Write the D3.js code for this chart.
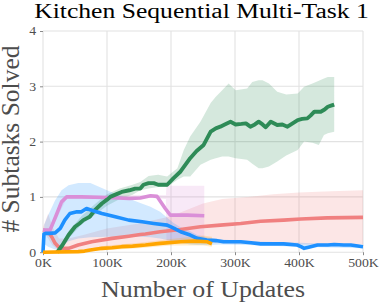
<!DOCTYPE html>
<html>
<head>
<meta charset="utf-8">
<script src="https://cdn.jsdelivr.net/npm/d3@7"></script>
<style>
  html, body { margin: 0; padding: 0; background: #fff; }
  svg { display: block; }
</style>
</head>
<body>
<svg id="chart" width="379" height="304"></svg>
<script>
// ---------------- DATA (x in thousands of updates) ----------------
const titleText = "Kitchen Sequential Multi-Task 1";
const xLabelText = "Number of Updates";
const yLabelText = "# Subtasks Solved";
const xTicks = [0, 100, 200, 300, 400, 500];
const xTickLabels = ["0K", "100K", "200K", "300K", "400K", "500K"];
const yTicks = [0, 1, 2, 3, 4];

// Green series
const greenX = [22,30,40,50,57,63,73,81,92,100,105,115,123,135,144,152,157,165,173,180,194,204,215,230,240,251,262,270,277,284,293,301,310,317,324,331,337,343,348,356,366,374,382,390,398,405,413,418,424,434,440,445,450,455];
const greenY = [0,0.12,0.31,0.46,0.52,0.58,0.64,0.76,0.88,0.95,1.0,1.05,1.09,1.12,1.15,1.15,1.22,1.25,1.25,1.22,1.22,1.34,1.46,1.70,1.83,1.94,2.18,2.24,2.27,2.31,2.36,2.31,2.32,2.33,2.27,2.31,2.36,2.31,2.26,2.36,2.30,2.31,2.27,2.33,2.39,2.41,2.42,2.47,2.54,2.54,2.58,2.63,2.65,2.67];
const greenBandX = [22,40,60,80,100,120,140,152,165,180,194,210,220,230,246,262,270,280,290,301,319,327,337,343,353,366,380,398,408,421,431,439,445,455];
const greenHi = [0.04,0.38,0.65,0.86,1.05,1.15,1.22,1.27,1.38,1.40,1.37,1.52,1.85,2.09,2.36,2.70,2.81,2.93,3.05,2.93,2.96,3.08,3.11,3.11,3.05,2.90,2.85,2.87,2.99,3.05,3.10,3.14,3.17,3.17];
const greenLo = [0,0.25,0.50,0.67,0.84,0.96,1.04,1.12,1.15,1.18,1.18,1.31,1.37,1.37,1.58,1.67,1.70,1.73,1.73,1.70,1.67,1.60,1.52,1.52,1.55,1.64,1.75,1.85,2.00,1.98,1.94,2.12,2.15,2.18];

// Blue series
const blueX = [0,1.5,4,10,19,27,34,42,53,60,68,76,92,113,134,155,173,194,205,215,230,241,256,270,282,309,325,340,360,376,397,403,408,415,429,445,455,470,481,500];
const blueY = [0,0.33,0.34,0.34,0.35,0.43,0.58,0.70,0.73,0.73,0.79,0.76,0.70,0.64,0.58,0.55,0.52,0.49,0.43,0.37,0.31,0.25,0.22,0.21,0.19,0.19,0.17,0.15,0.15,0.15,0.13,0.10,0.07,0.09,0.13,0.13,0.14,0.13,0.13,0.10];
const blueBandX = [0,2,8,19,29,40,55,74,100,120,141,152,168,183,204,215,230,241,256,280,320,400,500];
const blueHi = [0,0.50,0.67,0.94,1.12,1.21,1.25,1.25,1.12,1.02,0.94,0.89,0.82,0.73,0.53,0.45,0.38,0.31,0.27,0.23,0.20,0.17,0.13];
const blueLo = [0,0.15,0.10,0.05,0.10,0.20,0.25,0.27,0.28,0.28,0.28,0.28,0.27,0.25,0.20,0.17,0.14,0.13,0.13,0.14,0.13,0.10,0.07];

// Red series
const redX = [0,3,8,14,19,24,29,40,55,76,108,134,152,160,183,215,246,277,309,340,376,403,444,500];
const redY = [0.40,0.39,0.37,0.27,0.16,0.10,0.07,0.07,0.13,0.19,0.25,0.29,0.32,0.33,0.37,0.41,0.46,0.49,0.52,0.56,0.58,0.60,0.62,0.63];
const redBandX = [0,5,8,15,25,40,60,100,150,200,250,280,320,360,400,450,500];
const redHi = [0.45,0.60,0.70,0.45,0.25,0.25,0.30,0.43,0.52,0.65,0.88,0.96,1.00,1.05,1.08,1.10,1.12];
const redLo = [0.35,0.30,0.25,0.12,0.03,0.02,0.04,0.10,0.15,0.17,0.17,0.16,0.15,0.15,0.14,0.14,0.14];

// Pink series
const pinkX = [0,11,20,29,37,60,100,135,152,168,178,191,199,225,252];
const pinkY = [0.40,0.40,0.65,0.91,1.00,1.00,0.99,0.97,0.98,1.02,1.01,0.79,0.67,0.67,0.66];
const pinkBandX = [0,11,37,100,170,192,193,252];
const pinkHi = [0.43,0.43,1.03,1.02,1.04,1.03,1.20,1.20];
const pinkLo = [0.37,0.37,0.97,0.96,0.98,0.96,0.20,0.20];

// Orange series
const orangeX = [0,55,65,74,92,108,123,140,160,183,215,236,256,264];
const orangeY = [0,0.01,0.02,0.04,0.07,0.08,0.10,0.11,0.13,0.16,0.19,0.20,0.19,0.15];
const orangeBandX = [0,55,100,150,200,250,264];
const orangeHi = [0.02,0.03,0.12,0.17,0.24,0.30,0.28];
const orangeLo = [0,0,0.04,0.07,0.12,0.12,0.10];

// ---------------- DRAWING ----------------
const svg = d3.select("#chart");
const x = d3.scaleLinear().domain([0, 500]).range([43, 363]);
const y = d3.scaleLinear().domain([0, 4]).range([252.2, 31]);

const gridColor = "#e2e2e2";
const textGray = "#4d4d4d";
const serif = "'Liberation Serif', 'Times New Roman', serif";
const sx = 1.15; // horizontal stretch of the reference's text

// grid
svg.append("g").selectAll("line.h").data(yTicks).join("line")
  .attr("x1", x(0)).attr("x2", x(500))
  .attr("y1", d => y(d)).attr("y2", d => y(d))
  .attr("stroke", gridColor).attr("stroke-width", 1.1);
svg.append("g").selectAll("line.v").data(xTicks).join("line")
  .attr("x1", d => x(d)).attr("x2", d => x(d))
  .attr("y1", y(0)).attr("y2", y(4))
  .attr("stroke", gridColor).attr("stroke-width", 1.1);

// axes
const xAxis = d3.axisBottom(x).tickValues(xTicks)
  .tickFormat((d, i) => xTickLabels[i]).tickSize(3).tickPadding(3);
const gx = svg.append("g").attr("transform", `translate(0,${y(0)})`).call(xAxis);
gx.select(".domain").remove();
gx.selectAll(".tick line").attr("stroke", "#8a8a8a");
gx.selectAll(".tick text").attr("fill", textGray).style("font-family", serif)
  .style("font-size", "12px").attr("transform", `scale(${sx},1)`);

const yAxis = d3.axisLeft(y).tickValues(yTicks).tickFormat(d3.format("d")).tickSize(3).tickPadding(3);
const gy = svg.append("g").attr("transform", `translate(${x(0)},0)`).call(yAxis);
gy.select(".domain").remove();
gy.selectAll(".tick line").attr("stroke", "#8a8a8a");
gy.selectAll(".tick text").attr("fill", textGray).style("font-family", serif)
  .style("font-size", "12px").attr("transform", `scale(${sx},1)`);

const series = [
  {name: "red", color: "#f08080", X: redX, Y: redY, BX: redBandX, hi: redHi, lo: redLo},
  {name: "pink", color: "#da8fd8", X: pinkX, Y: pinkY, BX: pinkBandX, hi: pinkHi, lo: pinkLo},
  {name: "green", color: "#2e8b57", X: greenX, Y: greenY, BX: greenBandX, hi: greenHi, lo: greenLo},
  {name: "blue", color: "#1e90ff", X: blueX, Y: blueY, BX: blueBandX, hi: blueHi, lo: blueLo},
  {name: "orange", color: "#ffa500", X: orangeX, Y: orangeY, BX: orangeBandX, hi: orangeHi, lo: orangeLo}
];

const area = d3.area().x(d => x(d.x)).y0(d => y(d.lo)).y1(d => y(d.hi));
const line = d3.line().x(d => x(d.x)).y(d => y(d.y));

const bandG = svg.append("g");
series.forEach(s => {
  const pts = s.BX.map((v, i) => ({x: v, lo: s.lo[i], hi: s.hi[i]}));
  bandG.append("path").datum(pts).attr("d", area)
    .attr("fill", s.color).attr("fill-opacity", 0.2).attr("stroke", "none");
});
const lineG = svg.append("g");
series.forEach(s => {
  const pts = s.X.map((v, i) => ({x: v, y: s.Y[i]}));
  lineG.append("path").datum(pts).attr("d", line)
    .attr("fill", "none").attr("stroke", s.color)
    .attr("stroke-width", s.name === "green" ? 3.9 : 3.6)
    .attr("stroke-linejoin", "round").attr("stroke-linecap", "butt");
});

// title & labels
svg.append("text").attr("transform", `translate(201.5,18) scale(1.25,1)`).attr("text-anchor", "middle")
  .style("font-family", serif).style("font-size", "20.5px").attr("fill", "#000")
  .text(titleText);
svg.append("text").attr("transform", `translate(203,297) scale(${sx},1)`).attr("text-anchor", "middle")
  .style("font-family", serif).style("font-size", "22.5px").attr("fill", textGray)
  .text(xLabelText);
svg.append("text").attr("transform", `translate(18.5,139) rotate(-90)`).attr("text-anchor", "middle")
  .style("font-family", serif).style("font-size", "25.5px").attr("fill", textGray)
  .text(yLabelText);
</script>
</body>
</html>
